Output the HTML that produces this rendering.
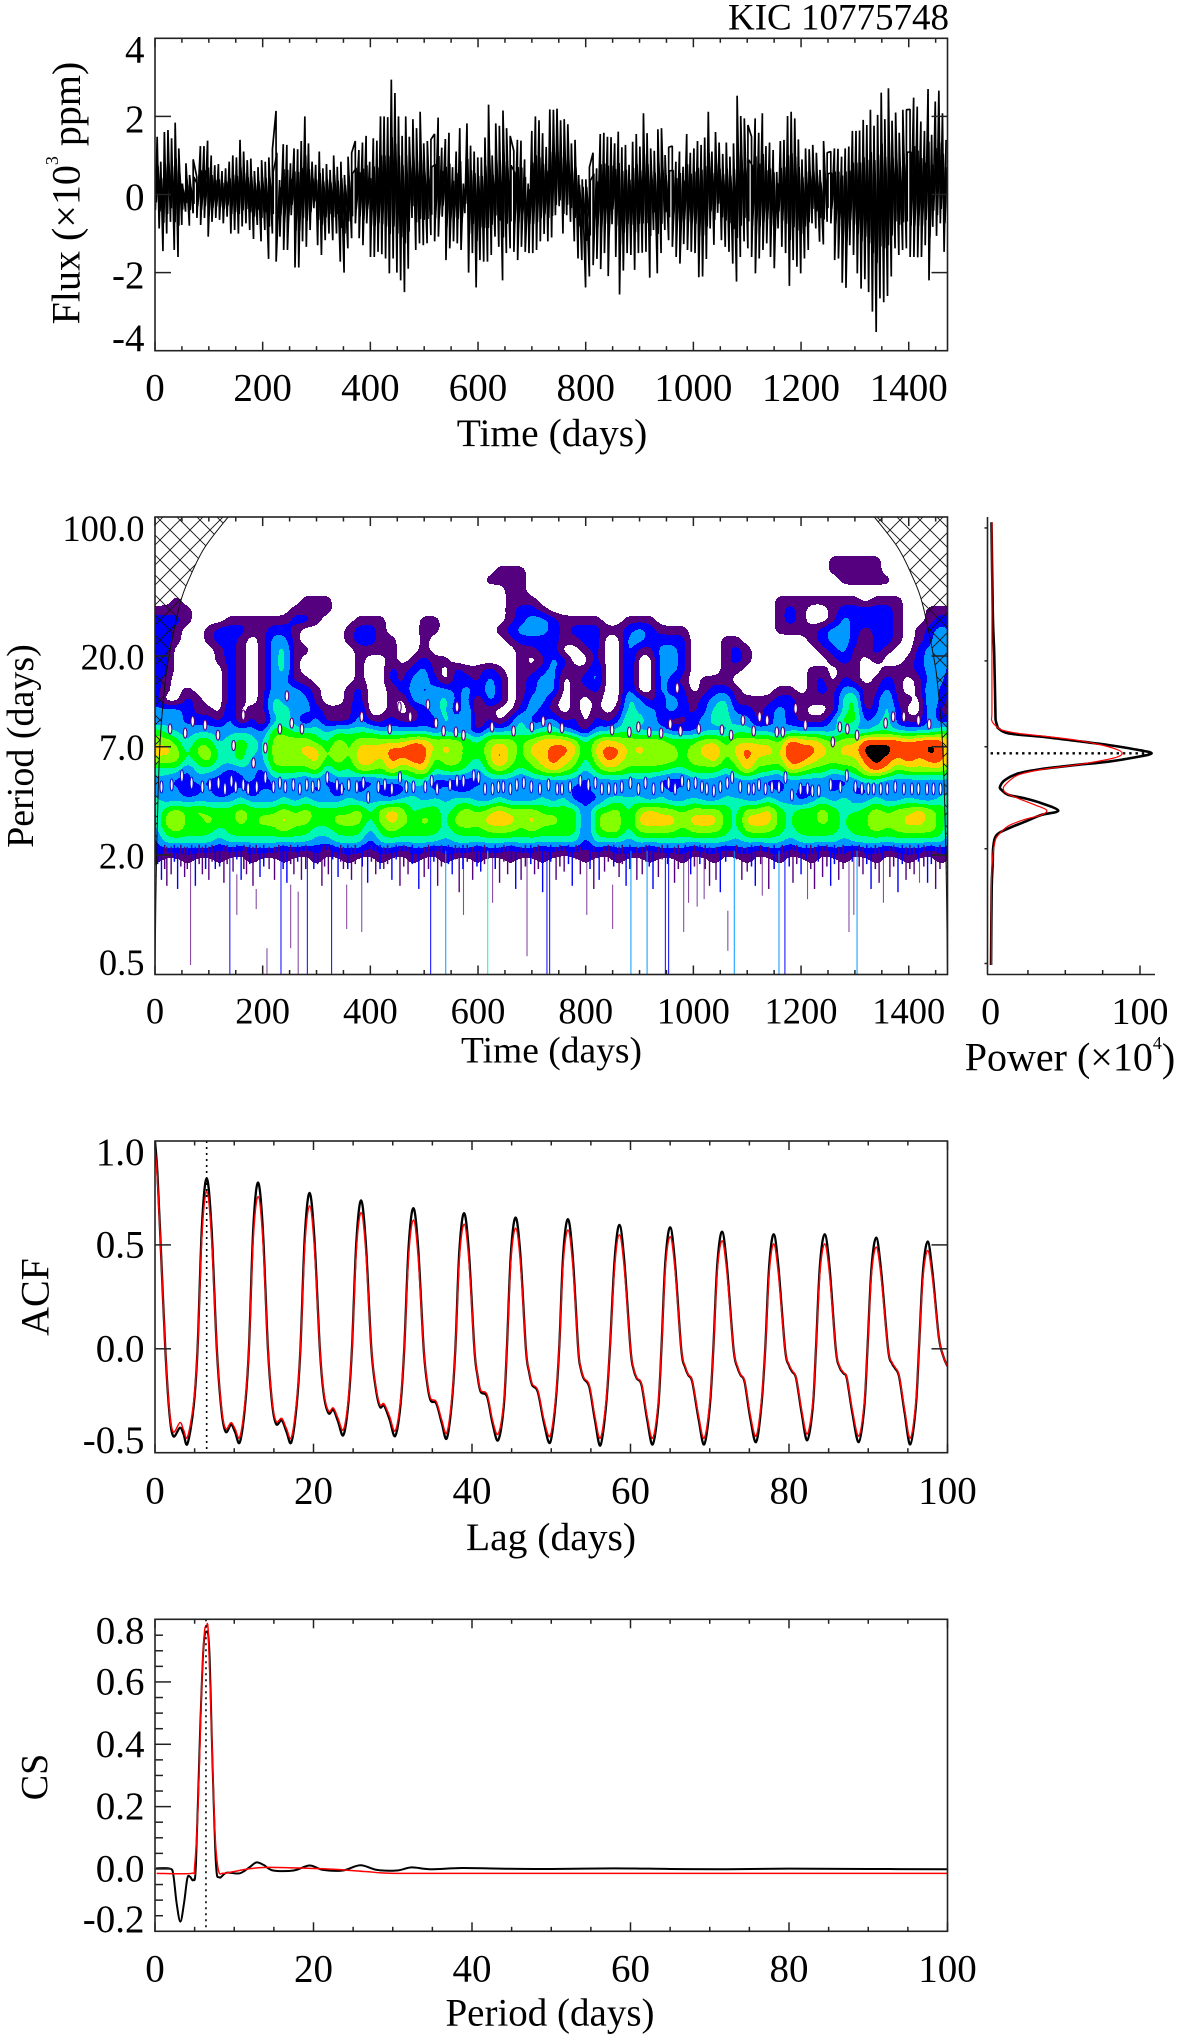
<!DOCTYPE html>
<html lang="en">
<head>
<meta charset="utf-8">
<title>KIC 10775748</title>
<style>
html,body{margin:0;padding:0;background:#fff}
svg{display:block}
text{font-family:"Liberation Serif",serif;fill:#000}
</style>
</head>
<body>
<svg id="chart" xmlns="http://www.w3.org/2000/svg" width="1200" height="2040" viewBox="0 0 1200 2040">
  <defs>
    <pattern id="hatch" patternUnits="userSpaceOnUse" width="20" height="20">
      <path d="M0 0L20 20M20 0L0 20" stroke="#111" stroke-width="0.9" fill="none"/>
    </pattern>
    <clipPath id="clip-flux"><rect x="155" y="38.3" width="792.5" height="312.4"/></clipPath>
    <clipPath id="clip-wave"><rect x="155" y="517" width="792.5" height="458"/></clipPath>
    <clipPath id="clip-acf"><rect x="155" y="1141" width="792.5" height="311.7"/></clipPath>
    <clipPath id="clip-cs"><rect x="155" y="1619.3" width="792.5" height="312"/></clipPath>
  </defs>
  <rect width="1200" height="2040" fill="#fff"/>
  <text x="949" y="18" text-anchor="end" dominant-baseline="central" font-size="37">KIC 10775748</text>

  <text transform="translate(66,193) rotate(-90)" text-anchor="middle" dominant-baseline="central" font-size="40">Flux (×10<tspan dy="-14" font-size="18">3</tspan><tspan dy="14"> ppm)</tspan></text>
  <text x="552" y="433" text-anchor="middle" dominant-baseline="central" font-size="39.5">Time (days)</text>

  <text transform="translate(21,746) rotate(-90)" text-anchor="middle" dominant-baseline="central" font-size="38">Period (days)</text>
  <text x="551.5" y="1051" text-anchor="middle" dominant-baseline="central" font-size="37.5">Time (days)</text>
  <text x="1070" y="1057" text-anchor="middle" dominant-baseline="central" font-size="40">Power (×10<tspan dy="-14" font-size="18">4</tspan><tspan dy="14">)</tspan></text>

  <text transform="translate(35,1297) rotate(-90)" text-anchor="middle" dominant-baseline="central" font-size="40">ACF</text>
  <text x="551" y="1537" text-anchor="middle" dominant-baseline="central" font-size="39.5">Lag (days)</text>

  <text transform="translate(35,1777) rotate(-90)" text-anchor="middle" dominant-baseline="central" font-size="38">CS</text>
  <text x="550" y="2013" text-anchor="middle" dominant-baseline="central" font-size="39">Period (days)</text>
</svg>

<script>
/* ---------- FLUX DATA (10^3 ppm), successive upper and lower excursions ---------- */
const fluxHigh = [1.48,.84,1.6,1.65,1.44,1.84,1.18,.28,.8,.5,.9,.45,1.24,1.24,1.38,1.0,.75,.78,.6,.67,.84,1.0,.95,1.4,1.1,.88,.92,.6,.7,.88,.84,.95,1.16,2.14,.37,1.29,1.27,.8,1.18,1.16,1.37,2.0,1.31,.84,.76,1.1,.67,.78,.63,1.0,.71,.84,.5,.97,1.07,1.37,1.14,1.33,1.5,.84,1.44,1.38,2.0,2.0,1.98,2.94,2.6,2.0,1.5,2.0,1.48,1.93,1.7,2.12,1.31,1.37,1.41,1.55,1.97,1.2,1.42,1.58,.7,1.1,1.7,.28,1.82,1.25,1.1,.95,.95,1.46,2.3,1.0,1.82,1.76,2.15,1.7,1.5,1.12,1.4,1.38,.9,.28,1.63,2.0,1.9,1.57,1.22,2.18,
2.17,2.2,1.9,1.93,1.8,1.31,1.4,.5,.39,.39,.7,1.07,.67,1.55,1.58,1.48,1.47,1.31,1.61,1.21,1.27,.76,1.35,1.55,1.23,2.08,1.57,1.18,1.12,1.67,1.7,1.01,1.21,1.24,.84,1.1,.71,1.55,1.07,1.18,1.37,1.27,1.46,2.12,1.1,1.6,1.33,1.04,1.33,.97,1.31,2.53,2.01,1.95,1.78,1.48,1.95,1.58,2.08,1.24,1.33,1.14,.58,1.37,1.4,2.01,2.12,1.95,1.41,.9,1.18,1.16,1.27,1.07,.63,1.37,1.07,1.1,1.18,1.17,.97,1.18,1.23,1.63,1.63,1.64,1.91,1.78,2.17,1.76,2.04,2.61,1.93,2.72,1.89,2.1,1.58,2.17,2.17,2.18,2.48,2.25,1.87,1.63,2.7,1.53,2.38,2.66,2.08,1.4];
const fluxLow = [-.4,-.87,-1.45,-1.0,-.7,-1.42,-1.6,-.78,-.44,-.8,-.48,-.6,-.78,-.6,-1.08,-.7,-.6,-.65,-.74,-.57,-1.0,-.91,-1.0,-.82,-.74,-.91,-1.14,-.78,-1.2,-.91,-1.65,-1.0,-1.72,-1.08,-1.42,-1.42,-.53,-1.87,-1.87,-1.2,-1.34,-.91,-.35,-1.3,-1.55,-1.17,-1.0,-1.17,-1.0,-1.72,-2.0,-1.38,-1.12,-.74,-1.12,-1.3,-.74,-1.6,-1.6,-1.47,-1.53,-1.64,-2.02,-1.64,-2.0,-2.2,-2.5,-1.9,-.6,-1.42,-1.25,-1.3,-1.25,-1.04,-1.2,-1.08,-.57,-1.68,-1.38,-1.2,-1.25,-1.42,-.48,-2.0,-1.5,-2.38,-1.68,-1.72,-1.72,-1.55,-1.08,-1.34,-2.2,-1.5,-1.38,-1.47,-1.68,-1.34,-1.47,-1.5,
-1.5,-1.42,-1.2,-1.01,-1.2,-1.1,-.53,-.3,-1.0,-.53,-.7,-1.2,-1.64,-1.68,-2.38,-2.1,-1.81,-1.65,-1.91,-1.5,-2.09,-.76,-1.6,-2.56,-1.95,-1.5,-1.55,-1.93,-1.5,-1.49,-1.47,-2.13,-.91,-2.02,-1.5,-.91,-1.17,-1.34,-1.6,-1.77,-1.27,-1.42,-1.47,-1.5,-2.12,-2.1,-1.65,-.87,-1.29,-.47,-1.17,-1.34,-1.47,-1.77,-2.23,-1.6,-1.2,-1.38,-1.6,-2.02,-1.64,-1.42,-1.25,-1.6,-1.89,-.87,-1.34,-1.5,-2.34,-1.68,-1.85,-2.02,-1.64,-1.42,-.74,-.87,-1.21,-1.28,-.7,-.74,-1.68,-1.64,-2.26,-2.39,-1.3,-1.55,-2.02,-2.41,-2.17,-2.5,-3.0,-3.52,-2.66,-2.76,-2.6,-2.1,-1.38,-1.55,-1.42,-1.38,-1.6,-1.6,-1.61,-1.6,-1.3,-2.2,-.83,-1.06,-.74,-1.47];
const fluxTickValues = [-4,-2,0,2,4];
const fluxTickLabels = ["-4","-2","0","2","4"];
const timeTickValues = [0,200,400,600,800,1000,1200,1400];
const timeTickLabels = ["0","200","400","600","800","1000","1200","1400"];
const timeMinorValues = [50,100,150,250,300,350,450,500,550,650,700,750,850,900,950,1050,1100,1150,1250,1300,1350,1450];

/* ---------- WAVELET DATA: contour level 0-9 per period row and 20-day time column ---------- */
const waveTimes = [0,20,40,60,80,100,120,140,160,180,200,220,240,260,280,300,320,340,360,380,400,420,440,460,480,500,520,540,560,580,600,620,640,660,680,700,720,740,760,780,800,820,840,860,880,900,920,940,960,980,1000,1020,1040,1060,1080,1100,1120,1140,1160,1180,1200,1220,1240,1260,1280,1300,1320,1340,1360,1380,1400,1420,1440,1460,1480];
const wavePeriods = [68,60.6,54,48.1,42.8,38.2,34,30.3,27,24,21.4,19,17,15.1,13.5,12,10.7,9.51,8.47,7.55,6.72,5.99,5.33,4.75,4.23,3.77,3.36,2.99,2.67,2.37,2.11,1.88,1.68,1.5];
const waveLevels = [
"00000 00000 00000 00000 00000 00000 00000 00000 00000 00000 00000 00000 00000 00000 00000",
"00000 00000 00000 00000 00000 00000 00000 00000 00000 00000 00000 00000 00011 11100 00000",
"00000 00000 00000 00000 00000 00000 00111 00000 00000 00000 00000 00000 00011 11100 00000",
"00000 00000 00000 00000 00000 00000 01111 00000 00000 00000 00000 00000 00001 11110 00000",
"00000 00000 00000 00000 00000 00000 00011 00000 00000 00000 00000 00000 00000 00000 00000",
"00100 00000 00001 11000 00000 00000 00011 10000 00000 00000 00000 00011 11111 10111 00000",
"11110 00000 00011 11000 00000 00000 00012 21000 00000 00000 00000 00012 10012 22221 00111",
"22210 00111 11122 10001 11000 11000 00012 33211 11001 11000 00000 00012 10013 22221 00122",
"22100 12221 12210 00012 21000 11000 00123 33212 22112 32111 00000 00011 11233 21221 01232",
"22100 12210 13310 00012 21100 10000 00012 22211 22003 32222 00011 00000 01233 20221 01242",
"22000 01210 13411 00001 11100 10000 00001 12200 12003 11332 00012 10000 00123 11210 02332",
"22000 01210 13410 00001 00101 21100 00001 01320 02003 00332 00012 10000 00012 10100 12332",
"22000 00210 13410 00001 00212 31021 12101 12311 13003 00332 00011 00000 01101 10011 12332",
"21000 00210 13311 00001 00213 32022 13201 23301 23003 00321 01110 00000 01202 10121 01331",
"21010 00210 13332 10012 00123 23323 23201 23301 12003 00322 01221 00011 01213 31131 01421",
"20021 00210 14333 10012 00103 33423 03201 33101 01004 31232 12341 11122 11114 50241 10421",
"33321 10301 14433 21113 00101 23414 01002 32101 01014 33232 12442 21232 10014 51242 00411",
"23322 21302 03431 31113 11211 22434 02024 22312 02125 43211 23443 31232 11135 52342 11322",
"54333 33333 25544 43444 43333 32323 13334 34432 13344 33322 23334 43323 33334 33443 33344",
"66535 53454 36666 54656 66667 76665 46665 67776 46766 66655 56656 66658 77656 68888 78886",
"77646 64454 36667 75757 77889 86765 56865 77887 47886 76665 67857 87769 88767 79998 98986",
"66645 64453 36666 75657 76878 85665 46865 67876 46876 66665 66756 86668 87666 68987 87886",
"44424 43233 25555 63546 65756 74554 35654 56765 35665 55544 55545 75547 65545 57875 66665",
"33223 22123 13332 32332 23334 42222 23332 33333 23333 33222 33323 33223 33322 34433 33333",
"32312 31231 32323 23132 32123 32322 32323 23232 23232 32323 23232 32323 22323 22323 23233",
"43333 33343 33434 33343 33344 34344 33433 34342 22444 43433 43344 33433 23434 33433 43344",
"35656 55565 55656 55556 46764 55456 56766 65555 25564 67665 66654 66754 55654 45656 67654",
"36755 65565 66766 55666 46765 65467 67776 76655 25764 77776 77754 77754 65654 65766 77653",
"35655 54555 55655 44555 35655 55455 56665 65555 25664 66665 66654 66654 55554 55656 66653",
"24444 43444 44444 33444 24444 44344 44444 44444 24443 44444 44443 44443 44443 44444 44442",
"22222 21212 22121 21222 12212 21222 12212 21212 12122 21222 12212 21221 22122 12212 22122",
"10010 01001 00100 10010 01001 00100 10010 01000 10010 01001 00100 10010 01001 00100 10010",
"00000 00000 00000 00000 00000 00000 00000 00000 00000 00000 00000 00000 00000 00000 00000",
"00000 00000 00000 00000 00000 00000 00000 00000 00000 00000 00000 00000 00000 00000 00000"
];
const levelColors = ["none","#55007f","#0000ff","#0099ff","#00f8b4","#00ff00","#84ff00","#ffd400","#ff4200","#000000"];

/* narrow spikes of power toward short periods */
const spikeTimes = [66,139,208,234,283,328,384,356,152,188,266,252,512,540,618,691,728,733,884,914,948,954,573,627,802,850,982,1076,1159,1170,1304,1289,1064,1007,991,1020,1128,1212,1298,1353,1420];
const spikeStarts = [2.1,2.1,.68,2.1,2.1,2.1,2.1,1.42,1.6,1.35,1.31,1.42,2.1,2.1,2.1,2.1,2.1,2.1,2.1,2.1,2.1,2.1,2.1,2.1,2.1,1.42,2.1,2.1,2.1,2.1,2.1,2.1,1.05,2.1,2.1,2.1,2.1,2.1,2.1,2.1,2.1];
const spikeEnds = [.56,.5,.5,.5,.5,.5,.82,.85,1.0,1.07,.5,.68,.5,.5,.5,.62,.5,.5,.5,.5,.5,.5,1.0,1.15,1.0,.85,.82,.5,.5,.5,.5,.82,.66,1.1,1.15,1.2,1.25,1.2,1.0,1.15,1.45];
const spikeLevels = [1,2,1,2,2,2,1,1,1,1,1,1,2,3,4,1,2,2,3,3,2,2,1,1,1,1,1,3,3,2,3,1,1,1,1,1,1,1,1,1,1];
const shortSpikeTimes = [12,22,30,42,55,60,75,88,100,112,128,145,160,170,182,195,212,222,245,258,272,295,310,322,340,350,365,395,410,425,440,455,470,490,500,525,552,565,590,605,640,655,670,680,705,720,745,760,775,790,815,825,835,862,875,895,905,925,935,965,995,1030,1042,1050,1090,1100,1115,1140,1185,1200,1225,1240,1255,1270,1315,1330,1345,1365,1380,1395,1410,1435,1450];
const shortSpikeEnds = [1.5,1.4,1.6,1.35,1.55,1.7,1.4,1.6,1.5,1.7,1.45,1.65,1.5,1.6,1.4,1.55,1.7,1.5,1.45,1.6,1.5,1.7,1.4,1.6,1.55,1.7,1.5,1.45,1.6,1.7,1.5,1.4,1.6,1.35,1.55,1.4,1.6,1.3,1.5,1.65,1.45,1.6,1.35,1.5,1.6,1.3,1.5,1.65,1.4,1.6,1.35,1.5,1.65,1.55,1.4,1.5,1.6,1.35,1.55,1.45,1.6,1.4,1.5,1.3,1.5,1.65,1.4,1.35,1.45,1.6,1.35,1.55,1.4,1.5,1.6,1.35,1.45,1.55,1.3,1.5,1.6,1.45,1.35];
const combTimes = [5,18,36,48,68,82,94,106,120,134,152,165,176,188,202,230,238,252,265,280,302,315,330,345,358,372,385,402,418,432,448,462,478,508,518,532,545,558,572,580,598,612,632,648,662,688,698,712,735,752,768,782,808,842,852,868,882,912,918,942,952,972,985,1002,1012,1022,1060,1080,1108,1125,1150,1165,1178,1192,1210,1218,1232,1248,1262,1278,1295,1308,1322,1338,1352,1372,1388,1402,1418,1428,1442,1458];
const combEnds = [1.8,1.7,1.85,1.75,1.9,1.8,1.7,1.85,1.75,1.8,1.9,1.7,1.8,1.85,1.75,1.9,1.7,1.8,1.85,1.7,1.8,1.75,1.9,1.85,1.7,1.8,1.75,1.85,1.7,1.8,1.9,1.75,1.8,1.7,1.85,1.75,1.8,1.9,1.7,1.85,1.75,1.8,1.7,1.85,1.9,1.75,1.8,1.7,1.85,1.75,1.8,1.9,1.7,1.85,1.75,1.8,1.7,1.85,1.75,1.9,1.8,1.7,1.85,1.75,1.8,1.7,1.85,1.9,1.75,1.8,1.7,1.85,1.75,1.8,1.9,1.7,1.85,1.75,1.8,1.7,1.85,1.75,1.8,1.7,1.9,1.75,1.8,1.7,1.85,1.75,1.8,1.7];

/* small closed gaps in the contours: [time, period] */
const stripeHoles = [[12,4.4],[31,4.5],[50,5.0],[68,4.6],[88,4.4],[102,4.5],[118,4.6],[130,4.3],[142,4.7],[150,4.4],[164,4.5],[173,4.3],[189,4.4],[205,4.9],[220,4.4],[232,4.6],[242,4.4],[257,4.5],[269,4.3],[282,4.5],[293,4.4],[304,4.5],[320,4.9],[338,4.5],[347,4.3],[360,4.5],[375,4.4],[387,4.6],[396,3.9],[415,4.4],[427,4.5],[440,4.3],[455,4.9],[467,4.4],[480,4.4],[502,4.4],[514,4.7],[524,4.3],[548,4.5],[561,4.7],[573,4.7],[592,5.0],[601,4.9],[613,4.3],[627,4.3],[638,4.4],[647,4.4],[660,4.3],[672,4.5],[685,4.6],[699,4.4],[715,4.3],[731,4.5],[747,4.3],[756,4.3],[771,4.4],[790,4.7],[805,4.5],[818,4.6],[830,4.3],[843,4.3],[855,4.3],[867,4.4],[883,4.6],[898,4.3],[911,4.6],[926,4.3],[942,4.4],[954,4.6],[966,4.3],[979,4.7],[991,4.5],[1004,4.6],[1016,4.4],[1025,4.3],[1038,4.2],[1050,4.4],[1063,4.6],[1072,4.9],[1087,4.4],[1103,4.3],[1112,4.3],[1122,4.5],[1134,4.3],[1146,4.4],[1159,4.4],[1171,4.9],[1183,4.0],[1199,4.3],[1212,4.3],[1221,4.2],[1233,4.2],[1255,4.5],[1273,4.4],[1285,5.0],[1301,4.4],[1313,4.3],[1325,4.3],[1335,4.3],[1348,4.3],[1360,4.3],[1375,4.4],[1391,4.3],[1406,4.3],[1418,4.3],[1434,4.3],[1446,4.3],[1459,4.3]];
const upperHoles = [[245,12.6],[28,8.6],[70,9.4],[93,9.0],[56,8.2],[117,8.0],[146,7.1],[164,10.1],[183,5.8],[205,6.9],[232,8.6],[254,9.2],[273,8.6],[384,9.9],[436,8.6],[454,11.1],[474,9.9],[507,11.4],[522,9.2],[536,8.4],[561,11.1],[559,8.3],[573,8.0],[626,8.8],[666,8.4],[700,8.8],[721,9.4],[733,8.7],[756,8.7],[849,8.5],[881,8.3],[898,8.8],[918,8.3],[940,8.2],[957,9.1],[976,8.4],[970,13.8],[1010,8.6],[1053,8.5],[1070,8.0],[1092,9.5],[1112,8.4],[1123,9.9],[1137,9.5],[1155,8.3],[1166,8.3],[1190,10.9],[1208,9.0],[1259,7.4],[1272,8.8],[1286,8.6],[1304,8.0],[1357,9.2],[1371,9.9],[1391,9.9],[1418,9.5],[1438,9.1]];

/* cone of influence */
const coiPeriods = [100,70,50,37,20,14,7,2,0.5];
const coiTimes = [136,92,65,47,26,18,9,3,0];
const waveTickValues = [100,20,7,2,0.5];
const waveTickLabels = ["100.0","20.0","7.0","2.0","0.5"];

/* ---------- GLOBAL POWER DATA ---------- */
const powerBlackPeriods = [94,32,20.7,10.6,9.53,8.9,8.66,8.17,7.86,7.5,7.14,6.79,6.49,6.19,5.89,5.66,5.41,5.14,4.76,4.41,4.24,4.01,3.85,3.64,3.34,3.18,2.94,2.72,2.52,2.2,1.81,1.33,0.56];
const powerBlack = [.6,1.5,2.4,3.2,3.4,4.5,5.2,11.9,34.1,56.5,78.7,96.6,107.8,96.6,78.7,56.5,34.1,18.5,9.6,6.3,7.4,11.9,23,34.1,45.3,34.1,23,11.9,4,1.8,1.4,.7,.3];
const powerRedPeriods = [94,20,10.6,9.53,9.0,8.5,8.17,7.93,7.57,7.14,6.74,6.49,6.24,5.96,5.66,5.38,5.05,4.58,4.32,4.08,3.85,3.57,3.36,3.18,3.02,2.8,2.52,2.33,1.89,1.33,0.56];
const powerRed = [.9,.9,.9,.7,2.9,7.4,18.5,34.1,56.5,74.3,85.4,88.1,85.4,74.3,56.5,34.1,18.5,10.7,8.5,10.7,18.5,29.7,37.5,34.1,23,11.9,5.2,2.9,1.2,.5,.5];
const powerTickValues = [0,25,50,75,100];
const powerTickLabels = ["0","","","","100"];
const powerPeriodTicks = [88,18.9,7.0,2.15,0.57];
const rotationPeriodGwps = 6.49;

/* ---------- ACF DATA ---------- */
const acfLags = [0,.3,.65,1.3,1.8,2.3,3.15,3.6,4.1,
4.87,5.37,5.92,6.52,7.12,7.8,8.4,8.93,9.6,10.1,10.7,
11.35,11.85,12.4,13,13.6,14.25,14.8,15.3,16,16.6,17.2,
17.85,18.35,18.9,19.5,20.1,20.8,21.3,21.9,22.5,23.1,23.76,
24.35,24.85,25.4,26,26.6,27.3,27.9,28.4,28.9,29.6,30.3,
30.95,31.45,32,32.6,33.2,33.9,34.4,34.8,35.5,36.2,36.8,
37.4,37.9,38.4,39,39.6,40.3,40.7,41.1,41.9,42.6,43.3,
44,44.4,44.9,45.5,46.1,46.8,47.2,47.6,48.3,49.1,49.85,
50.5,51,51.5,52.1,52.7,53.4,53.7,54.1,54.8,55.5,56.2,
56.9,57.4,58,58.6,59.2,60,60.4,60.8,61.4,62.1,62.8,
63.5,63.9,64.4,65,65.6,66.4,66.9,67.3,67.8,68.6,69.3,
70,70.45,70.95,71.55,72.15,73,73.5,73.9,74.4,75.1,75.84,
76.5,77,77.5,78.07,78.65,79.5,80,80.4,80.9,81.6,82.3,
83,83.4,83.9,84.5,85.1,85.9,86.4,86.9,87.3,88,88.8,
89.5,89.9,90.4,91,91.6,92.5,93,93.4,93.9,94.6,95.3,
96,96.4,96.9,97.5,98.1,98.9,99.5,100];
const acfBlack = [1,.85,.56,0,-.3,-.42,-.38,-.41,-.457,
-.28,0,.59,.82,.59,0,-.3,-.4,-.365,-.4,-.45,
-.28,0,.58,.8,.58,0,-.27,-.363,-.344,-.4,-.45,
-.28,0,.54,.75,.54,0,-.22,-.31,-.293,-.35,-.416,
-.28,0,.51,.714,.51,0,-.2,-.28,-.273,-.34,-.42,
-.28,0,.49,.677,.49,0,-.18,-.25,-.264,-.36,-.432,
-.28,0,.47,.653,.47,0,-.13,-.207,-.23,-.36,-.44,
-.28,0,.455,.632,.455,0,-.11,-.175,-.207,-.36,-.452,
-.28,0,.45,.624,.45,0,-.09,-.143,-.183,-.34,-.465,
-.28,0,.43,.596,.43,0,-.1,-.143,-.175,-.34,-.46,
-.28,0,.42,.585,.42,0,-.09,-.127,-.16,-.34,-.46,
-.28,0,.405,.564,.405,0,-.09,-.127,-.16,-.33,-.449,
-.28,0,.4,.551,.4,0,-.08,-.11,-.143,-.31,-.44,
-.28,0,.4,.551,.4,0,-.09,-.119,-.143,-.31,-.449,
-.28,0,.385,.535,.385,0,-.07,-.095,-.135,-.31,-.46,
-.28,0,.37,.516,.37,.058,-.039,-.084];
const acfRed = [.958,.82,.55,0,-.29,-.4,-.355,-.39,-.425,
-.26,0,.545,.757,.545,0,-.29,-.385,-.355,-.385,-.425,
-.26,0,.53,.733,.53,0,-.26,-.35,-.335,-.385,-.428,
-.26,0,.495,.688,.495,0,-.21,-.3,-.285,-.335,-.39,
-.26,0,.47,.656,.47,0,-.19,-.27,-.265,-.325,-.395,
-.26,0,.445,.62,.445,0,-.17,-.24,-.255,-.345,-.405,
-.26,0,.43,.6,.43,0,-.125,-.2,-.22,-.345,-.41,
-.26,0,.42,.58,.42,0,-.105,-.17,-.2,-.345,-.42,
-.26,0,.41,.572,.41,0,-.085,-.14,-.175,-.325,-.43,
-.26,0,.395,.548,.395,0,-.095,-.14,-.17,-.325,-.43,
-.26,0,.39,.54,.39,0,-.085,-.125,-.155,-.325,-.43,
-.26,0,.375,.52,.375,0,-.085,-.125,-.155,-.315,-.42,
-.26,0,.365,.505,.365,0,-.075,-.105,-.14,-.295,-.41,
-.26,0,.365,.505,.365,0,-.085,-.115,-.14,-.295,-.42,
-.26,0,.355,.49,.355,0,-.065,-.09,-.13,-.295,-.43,
-.26,0,.34,.473,.34,.058,-.039,-.084];
const acfTickValues = [-0.5,0,0.5,1];
const acfTickLabels = ["-0.5","0.0","0.5","1.0"];
const acfPeakLag = 6.52;
const lagTickValues = [0,20,40,60,80,100];
const lagTickLabels = ["0","20","40","60","80","100"];
const lagMinorValues = [5,10,15,25,30,35,45,50,55,65,70,75,85,90,95];

/* ---------- COMPOSITE SPECTRUM DATA ---------- */
const csBlackPeriods = [.13,1.89,2.31,2.73,3.2,3.66,4.08,4.42,4.84,5.17,5.68,6.1,6.47,6.85,7.27,7.69,8.11,9.04,10.7,12,12.8,13.7,14.9,17.5,19.5,21.2,23.7,25.9,28,30.5,32.4,34.7,38.7,43.5,50,58,65,72,80,90,100];
const csBlack = [.002,.001,-.019,-.11,-.169,-.11,-.03,-.025,-.035,.018,.435,.703,.761,.703,.328,.018,-.027,-.012,-.014,.007,.021,.013,-.005,-.005,.011,-.003,-.005,.012,-.003,-.005,.005,-.001,.003,.001,0,.002,0,-.001,.001,0,-.001];
const csRedPeriods = [.21,4.6,5,5.46,5.9,6.23,6.47,6.73,7.15,7.57,7.99,8.6,9.9,12,14.1,18.3,22.5,26.7,30.1,40,60,80,100];
const csRed = [-.014,-.014,.0075,.221,.596,.756,.775,.756,.435,.114,-.003,-.014,-.0086,.001,.005,.003,-.001,-.0086,-.014,-.014,-.014,-.014,-.014];
const csTickValues = [-0.2,0,0.2,0.4,0.6,0.8];
const csTickLabels = ["-0.2","0.0","0.2","0.4","0.6","0.8"];
const csMinorValues = [-.15,-.1,-.05,.05,.1,.15,.25,.3,.35,.45,.5,.55,.65,.7,.75];
const csPeakPeriod = 6.43;

/* ---------- AXIS FUNCTIONS ---------- */
const L = 155, R = 947.5;
const svg = document.getElementById('chart');
const NS = 'http://www.w3.org/2000/svg';
function linear(d0, d1, r0, r1){ return v => r0 + (v - d0) * (r1 - r0) / (d1 - d0); }
const xTime = linear(0, 1472, L, R);
const xLag = linear(0, 100, L, R);
const yFlux = linear(-4, 4, 350.7, 38.3);
const yAcf = linear(-0.5, 1, 1452.7, 1141);
const yCs = linear(-0.2, 0.8, 1931.3, 1619.6);
const yPeriod = p => 855 + (Math.log10(2) - Math.log10(p)) * 199;
const xPower = linear(0, 100, 990.6, 1140);

function make(tag, attrs, parent){
  const n = document.createElementNS(NS, tag);
  for (const k in attrs) n.setAttribute(k, attrs[k]);
  (parent || svg).appendChild(n);
  return n;
}
function group(name, clip){
  const g = make('g', clip ? {'clip-path': 'url(#' + clip + ')'} : {});
  
  
  return g;
}
function smoothPath(pts){
  let d = 'M' + pts[0][0].toFixed(2) + ' ' + pts[0][1].toFixed(2);
  for (let i = 0; i < pts.length - 1; i++){
    const p0 = pts[Math.max(i - 1, 0)], p1 = pts[i], p2 = pts[i + 1], p3 = pts[Math.min(i + 2, pts.length - 1)];
    const c1x = p1[0] + (p2[0] - p0[0]) / 6, c1y = p1[1] + (p2[1] - p0[1]) / 6;
    const c2x = p2[0] - (p3[0] - p1[0]) / 6, c2y = p2[1] - (p3[1] - p1[1]) / 6;
    d += 'C' + c1x.toFixed(2) + ' ' + c1y.toFixed(2) + ' ' + c2x.toFixed(2) + ' ' + c2y.toFixed(2) + ' ' + p2[0].toFixed(2) + ' ' + p2[1].toFixed(2);
  }
  return d;
}
function tickLine(g, x1, y1, x2, y2, w){
  const t = make('line', {x1: x1, y1: y1, x2: x2, y2: y2, stroke: '#222', 'stroke-width': w || 1.5}, g);
  
  
}
function tickText(g, x, y, str, anchor, size){
  if (str === '') return;
  const t = make('text', {x: x, y: y, 'text-anchor': anchor, 'dominant-baseline': 'central', 'font-size': size}, g);
  t.textContent = str;
  
  
}
function frame(g, left, top, right, bottom){
  const f = make('rect', {x: left, y: top, width: right - left, height: bottom - top, fill: 'none', stroke: '#222', 'stroke-width': 1.6}, g);
  
  
}
function drawXAxis(name, sx, top, bottom, majors, labels, minors, labelY, size){
  const g = group(name);
  majors.forEach((v, i) => {
    tickLine(g, sx(v), top, sx(v), top + 9);
    tickLine(g, sx(v), bottom, sx(v), bottom - 9);
    tickText(g, sx(v), labelY, labels[i], 'middle', size);
  });
  minors.forEach(v => {
    tickLine(g, sx(v), top, sx(v), top + 4.5);
    tickLine(g, sx(v), bottom, sx(v), bottom - 4.5);
  });
}
function drawYAxis(name, sy, top, bottom, majors, labels, labelOffset, size, bothSides){
  const g = group(name);
  majors.forEach((v, i) => {
    const y = sy(v);
    if (y > top + 2 && y < bottom - 2){
      tickLine(g, L, y, L + 16, y);
      if (bothSides) tickLine(g, R - 16, y, R, y);
    }
    const ly = Math.min(Math.max(y + labelOffset, top + 11.5), bottom - 12);
    tickText(g, 144.5, ly, labels[i], 'end', size);
  });
}

/* ---------- PANEL 1: FLUX ---------- */
(function(){
  const g = group('flux-light-curve-panel', 'clip-flux');
  const stepH = 1472 / fluxHigh.length, stepL = 1472 / fluxLow.length;
  const samples = [], inner = [];
  fluxLow.forEach((v, i) => {
    samples.push([(i + 0.1) * stepL, v]);
    inner.push([(i + 0.35) * stepL, v * 0.5]);
  });
  fluxHigh.forEach((v, i) => {
    samples.push([(i + 0.6) * stepH, v]);
    inner.push([(i + 0.85) * stepH, v * 0.5]);
  });
  samples.sort((a, b) => a[0] - b[0]);
  inner.sort((a, b) => a[0] - b[0]);
  const innerLine = make('polyline', {points: inner.map(s => xTime(s[0]).toFixed(2) + ',' + yFlux(s[1]).toFixed(2)).join(' '), fill: 'none', stroke: '#000', 'stroke-width': 1.5, 'stroke-linejoin': 'bevel'}, g);
  
  
  const line = make('polyline', {points: samples.map(s => xTime(s[0]).toFixed(2) + ',' + yFlux(s[1]).toFixed(2)).join(' '), fill: 'none', stroke: '#000', 'stroke-width': 1.7, 'stroke-linejoin': 'bevel'}, g);
  
  
  drawXAxis('flux-x-axis', xTime, 38.3, 350.7, timeTickValues, timeTickLabels, timeMinorValues, 388, 39);
  drawYAxis('flux-y-axis', yFlux, 38.3, 350.7, fluxTickValues, fluxTickLabels, 3, 39, true);
  frame(svg, L, 38.3, R, 350.7);
})();

/* ---------- PANEL 2: WAVELET ---------- */
(function(){
  const grid = waveLevels.map(r => r.replace(/ /g, '').split('').map(Number));
  const rowY = wavePeriods.map(yPeriod);
  const cols = waveTimes.length, rows = grid.length;
  const cell = (r, c) => {
    r = Math.max(0, Math.min(rows - 1, r));
    c = Math.max(0, Math.min(cols - 1, c));
    return grid[r][c] || 0;
  };
  /* mostly cubic B-spline weights, so contour levels stay rounded */
  const blend = 0.2;
  const kernel = t => {
    const t2 = t * t, t3 = t2 * t;
    const cr = [0.5 * (-t + 2 * t2 - t3), 0.5 * (2 - 5 * t2 + 3 * t3), 0.5 * (t + 4 * t2 - 3 * t3), 0.5 * (t3 - t2)];
    const bs = [(1 - t) * (1 - t) * (1 - t) / 6, (3 * t3 - 6 * t2 + 4) / 6, (-3 * t3 + 3 * t2 + 3 * t + 1) / 6, t3 / 6];
    return cr.map((w, i) => blend * w + (1 - blend) * bs[i]);
  };
  const timeOfX = x => (x - L) * 1472 / (R - L);
  const paths = levelColors.map(() => []);
  for (let y = Math.floor(rowY[0]); y < 975; y++){
    let r = 0;
    while (r < rows - 2 && rowY[r + 1] <= y + 0.5) r++;
    const fy = Math.min(1, Math.max(0, (y + 0.5 - rowY[r]) / (rowY[r + 1] - rowY[r])));
    const ky = kernel(fy);
    let runStart = L, runLevel = -1;
    for (let x = L; x <= R + 1; x++){
      let lv = -2;
      if (x <= R){
        const t = timeOfX(x + 0.5);
        let c = 0;
        while (c < cols - 2 && waveTimes[c + 1] <= t) c++;
        const kx = kernel((t - waveTimes[c]) / (waveTimes[c + 1] - waveTimes[c]));
        let v = 0;
        for (let a = 0; a < 4; a++){
          for (let b = 0; b < 4; b++){
            v += ky[a] * kx[b] * cell(r + a - 1, c + b - 1);
          }
        }
        lv = v < 0.55 ? 0 : Math.max(1, Math.min(9, Math.floor(v + 0.55)));
      }
      if (lv !== runLevel){
        if (runLevel > 0) paths[runLevel].push('M' + runStart + ' ' + y + 'h' + (x - runStart) + 'v1h-' + (x - runStart) + 'z');
        runStart = x;
        runLevel = lv;
      }
    }
  }
  const g = group('wavelet-contour-panel', 'clip-wave');
  paths.forEach((segs, i) => {
    if (!segs.length) return;
    const p = make('path', {d: segs.join(''), fill: levelColors[i], 'shape-rendering': 'crispEdges'}, g);
    
    
  });
  combTimes.forEach((t, i) => {
    const s = make('line', {x1: xTime(t), y1: yPeriod(2.25), x2: xTime(t), y2: yPeriod(combEnds[i]), stroke: i % 2 === 0 ? levelColors[2] : levelColors[1], 'stroke-width': 1.5}, g);
    
    
  });
  shortSpikeTimes.forEach((t, i) => {
    const s = make('line', {x1: xTime(t), y1: yPeriod(2.2), x2: xTime(t), y2: yPeriod(shortSpikeEnds[i]), stroke: i % 3 === 0 ? levelColors[2] : levelColors[1], 'stroke-width': 1.4}, g);
    
    
  });
  spikeTimes.forEach((t, i) => {
    const s = make('line', {x1: xTime(t), y1: yPeriod(spikeStarts[i]), x2: xTime(t), y2: yPeriod(spikeEnds[i]), stroke: levelColors[spikeLevels[i]], 'stroke-width': 1.1, 'stroke-opacity': spikeLevels[i] === 1 ? 0.7 : 0.9}, g);
    
    
  });
  stripeHoles.forEach(h => {
    const e = make('ellipse', {cx: xTime(h[0]), cy: yPeriod(h[1]), rx: 1.5, ry: 6, fill: '#fff', stroke: '#1010d0', 'stroke-width': 1}, g);
    
    
  });
  upperHoles.forEach(h => {
    const e = make('ellipse', {cx: xTime(h[0]), cy: yPeriod(h[1]), rx: 1.8, ry: 5, fill: '#fff', stroke: levelColors[1], 'stroke-width': 1.1}, g);
    
    
  });
  /* cone of influence, left and right */
  const leftPts = coiPeriods.map((p, i) => [xTime(coiTimes[i]), yPeriod(p)]);
  const rightPts = coiPeriods.map((p, i) => [xTime(1472 - coiTimes[i]), yPeriod(p)]);
  [[leftPts, xTime(0), 'coi-left'], [rightPts, xTime(1472), 'coi-right']].forEach(cfg => {
    const curve = smoothPath(cfg[0]);
    const area = make('path', {d: curve + 'L' + cfg[1] + ' ' + yPeriod(0.5) + 'L' + cfg[1] + ' ' + yPeriod(100) + 'Z', fill: 'url(#hatch)', stroke: 'none'}, g);
    
    
    const edge = make('path', {d: curve, fill: 'none', stroke: '#111', 'stroke-width': 1}, g);
    
    
  });
  drawXAxis('wavelet-x-axis', xTime, 517, 974.5, timeTickValues, timeTickLabels, timeMinorValues, 1011, 36.5);
  drawYAxis('wavelet-y-axis', yPeriod, 517, 974.5, waveTickValues, waveTickLabels, 1, 36.5, true);
  frame(svg, L, 517, R, 974.5);
})();

/* ---------- PANEL 2b: GLOBAL POWER ---------- */
(function(){
  const g = group('global-power-panel');
  const black = make('path', {d: smoothPath(powerBlackPeriods.map((p, i) => [xPower(powerBlack[i]), yPeriod(p)])), fill: 'none', stroke: '#000', 'stroke-width': 2.6}, g);
  
  
  const red = make('path', {d: smoothPath(powerRedPeriods.map((p, i) => [xPower(powerRed[i]), yPeriod(p)])), fill: 'none', stroke: '#f00', 'stroke-width': 1.2}, g);
  
  
  const dot = make('line', {x1: xPower(0), y1: yPeriod(rotationPeriodGwps), x2: xPower(108), y2: yPeriod(rotationPeriodGwps), stroke: '#000', 'stroke-width': 2.4, 'stroke-dasharray': '2.4 3.9'}, g);
  
  
  tickLine(g, 987.5, 517, 987.5, 974.5, 1.6);
  tickLine(g, 987, 974.5, 1155, 974.5, 1.6);
  powerPeriodTicks.forEach(p => tickLine(g, 984.5, yPeriod(p), 987.5, yPeriod(p)));
  powerTickValues.forEach((v, i) => {
    if (v > 0) tickLine(g, xPower(v), 974.5, xPower(v), 974.5 - (v === 100 ? 9 : 4.5));
    tickText(g, xPower(v), 1012, powerTickLabels[i], 'middle', 38);
  });
})();

/* ---------- PANEL 3: ACF ---------- */
(function(){
  const g = group('acf-panel', 'clip-acf');
  const black = make('path', {d: smoothPath(acfLags.map((l, i) => [xLag(l), yAcf(acfBlack[i])])), fill: 'none', stroke: '#000', 'stroke-width': 2.3}, g);
  
  
  const red = make('path', {d: smoothPath(acfLags.map((l, i) => [xLag(l), yAcf(acfRed[i])])), fill: 'none', stroke: '#f00', 'stroke-width': 1.5}, g);
  
  
  const dot = make('line', {x1: xLag(acfPeakLag), y1: 1141, x2: xLag(acfPeakLag), y2: 1452.7, stroke: '#000', 'stroke-width': 1.6, 'stroke-dasharray': '2 4'}, g);
  
  
  drawXAxis('acf-x-axis', xLag, 1141, 1452.7, lagTickValues, lagTickLabels, lagMinorValues, 1491, 39);
  drawYAxis('acf-y-axis', yAcf, 1141, 1452.7, acfTickValues, acfTickLabels, 0, 39, true);
  frame(svg, L, 1141, R, 1452.7);
})();

/* ---------- PANEL 4: COMPOSITE SPECTRUM ---------- */
(function(){
  const g = group('cs-panel', 'clip-cs');
  const black = make('path', {d: smoothPath(csBlackPeriods.map((p, i) => [xLag(p), yCs(csBlack[i])])), fill: 'none', stroke: '#000', 'stroke-width': 2}, g);
  
  
  const red = make('path', {d: smoothPath(csRedPeriods.map((p, i) => [xLag(p), yCs(csRed[i])])), fill: 'none', stroke: '#f00', 'stroke-width': 1.5}, g);
  
  
  const dot = make('line', {x1: xLag(csPeakPeriod), y1: 1619.3, x2: xLag(csPeakPeriod), y2: 1931.3, stroke: '#000', 'stroke-width': 1.6, 'stroke-dasharray': '2 4'}, g);
  
  
  drawXAxis('cs-x-axis', xLag, 1619.3, 1931.3, lagTickValues, lagTickLabels, lagMinorValues, 1969, 39);
  drawYAxis('cs-y-axis', yCs, 1619.3, 1931.3, csTickValues, csTickLabels, 0, 39, false);
  const minorGroup = group('cs-y-minor-ticks');
  csMinorValues.forEach(v => tickLine(minorGroup, L, yCs(v), L + 8, yCs(v)));
  frame(svg, L, 1619.3, R, 1931.3);
})();
</script>
</body>
</html>
